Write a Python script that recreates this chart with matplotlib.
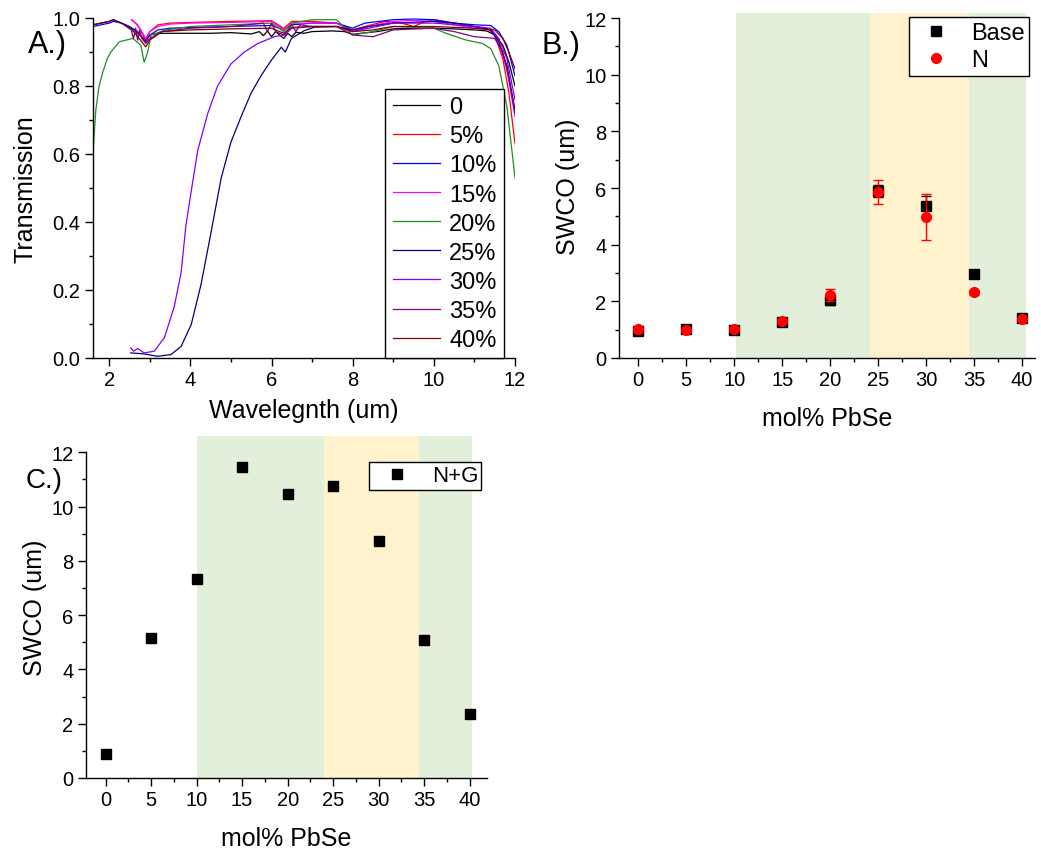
import matplotlib
matplotlib.use('Agg')
import matplotlib.pyplot as plt
from matplotlib.ticker import MultipleLocator
from matplotlib.lines import Line2D

plt.rcParams['font.family'] = ['Liberation Sans', 'DejaVu Sans']

# ---------------- Panel A data: transmission spectra ----------------
labels_a = ['0', '5%', '10%', '15%', '20%', '25%', '30%', '35%', '40%']
colors_a = ['#000000', '#ff0000', '#0000ff', '#ff00ff', '#1f8f1f',
            '#000080', '#8000ff', '#800080', '#800000']

wl_0 = [1.6, 1.8, 2.0, 2.1, 2.2, 2.4, 2.6, 2.7, 2.8, 2.9, 3.0, 3.2, 3.5, 4.0, 4.5, 5.0, 5.5,
        5.7, 5.8, 5.9, 6.0, 6.1, 6.2, 6.3, 6.4, 6.5, 6.6, 6.8, 7.0, 7.5, 7.8, 8.0, 8.2, 8.6,
        9.0, 9.5, 10.0, 10.5, 11.0, 11.3, 11.5, 11.7, 11.85, 12.0]
tr_0 = [0.98, 0.985, 0.99, 0.995, 0.99, 0.98, 0.965, 0.955, 0.945, 0.935, 0.95, 0.955, 0.955,
        0.955, 0.955, 0.957, 0.953, 0.96, 0.948, 0.962, 0.945, 0.96, 0.95, 0.94, 0.955, 0.945,
        0.958, 0.955, 0.96, 0.962, 0.96, 0.952, 0.955, 0.96, 0.968, 0.97, 0.97, 0.968, 0.965,
        0.962, 0.95, 0.92, 0.87, 0.80]

wl_5 = [2.55, 2.65, 2.75, 2.85, 2.9, 3.0, 3.2, 3.5, 4.0, 5.0, 6.0, 6.3, 6.5, 7.0, 7.6, 8.0,
        8.3, 8.8, 9.2, 9.5, 9.8, 10.0, 10.5, 11.0, 11.3, 11.5, 11.7, 11.85, 12.0]
tr_5 = [0.995, 0.985, 0.97, 0.945, 0.935, 0.96, 0.98, 0.985, 0.987, 0.99, 0.992, 0.97, 0.99,
        0.99, 0.985, 0.965, 0.975, 0.99, 0.985, 0.975, 0.99, 0.995, 0.985, 0.975, 0.97, 0.95,
        0.88, 0.78, 0.63]

wl_10 = [1.6, 1.8, 2.0, 2.1, 2.3, 2.5, 2.7, 2.85, 2.9, 3.0, 3.2, 3.5, 4.0, 5.0, 6.0, 6.3, 6.5,
         7.0, 7.6, 8.0, 8.3, 9.0, 9.5, 10.0, 10.5, 11.0, 11.4, 11.6, 11.8, 12.0]
tr_10 = [0.975, 0.98, 0.985, 0.99, 0.985, 0.975, 0.96, 0.935, 0.93, 0.95, 0.965, 0.97, 0.972,
         0.975, 0.978, 0.965, 0.98, 0.985, 0.985, 0.97, 0.985, 0.995, 0.997, 0.995, 0.985,
         0.98, 0.978, 0.96, 0.92, 0.83]

wl_15 = [2.55, 2.7, 2.85, 2.9, 3.0, 3.2, 3.5, 4.0, 5.0, 6.0, 6.3, 6.5, 7.0, 7.6, 8.0, 8.4,
         9.0, 9.5, 10.0, 10.5, 11.0, 11.4, 11.6, 11.8, 12.0]
tr_15 = [0.995, 0.98, 0.95, 0.94, 0.96, 0.975, 0.982, 0.985, 0.987, 0.99, 0.965, 0.985, 0.985,
         0.985, 0.96, 0.975, 0.99, 0.993, 0.99, 0.98, 0.97, 0.965, 0.93, 0.85, 0.71]

wl_20 = [1.6, 1.67, 1.75, 1.84, 1.95, 2.04, 2.25, 2.58, 2.78, 2.86, 2.95, 3.03, 3.4, 4.0, 5.0,
         6.0, 6.3, 6.5, 7.0, 7.6, 8.0, 8.5, 9.0, 10.0, 10.3, 10.8, 11.2, 11.4, 11.6, 11.8, 12.0]
tr_20 = [0.605, 0.73, 0.80, 0.84, 0.88, 0.90, 0.93, 0.94, 0.92, 0.87, 0.90, 0.95, 0.965, 0.975,
         0.98, 0.985, 0.96, 0.985, 0.995, 0.995, 0.95, 0.96, 0.975, 0.97, 0.955, 0.935, 0.925,
         0.91, 0.86, 0.74, 0.53]

wl_25 = [2.53, 2.86, 3.19, 3.52, 3.77, 4.02, 4.26, 4.51, 4.76, 5.0, 5.25, 5.5, 5.74, 5.99,
         6.24, 6.34, 6.49, 6.81, 7.06, 7.6, 8.0, 8.4, 9.0, 10.0, 10.5, 11.0, 11.4, 11.6, 11.8,
         12.0]
tr_25 = [0.015, 0.012, 0.005, 0.01, 0.034, 0.098, 0.215, 0.37, 0.53, 0.635, 0.71, 0.78, 0.83,
         0.875, 0.914, 0.90, 0.94, 0.963, 0.973, 0.975, 0.965, 0.975, 0.985, 0.99, 0.985,
         0.975, 0.965, 0.93, 0.86, 0.73]

wl_30 = [2.53, 2.6, 2.7, 2.86, 3.11, 3.36, 3.6, 3.77, 3.89, 4.02, 4.18, 4.43, 4.67, 5.0, 5.33,
         5.66, 6.07, 6.32, 6.5, 7.0, 7.6, 8.0, 8.4, 9.0, 10.0, 10.5, 11.0, 11.4, 11.6, 11.8,
         12.0]
tr_30 = [0.03, 0.02, 0.028, 0.015, 0.02, 0.06, 0.15, 0.25, 0.39, 0.49, 0.61, 0.72, 0.80, 0.865,
         0.90, 0.925, 0.945, 0.95, 0.97, 0.975, 0.975, 0.96, 0.97, 0.985, 0.985, 0.98, 0.975,
         0.97, 0.94, 0.88, 0.76]

wl_35 = [2.55, 2.6, 2.65, 2.7, 2.75, 2.8, 2.9, 3.0, 3.3, 4.0, 5.0, 5.8, 5.9, 6.0, 6.1, 6.3,
         6.5, 6.6, 6.7, 7.0, 7.6, 8.0, 8.5, 9.0, 10.0, 10.5, 11.0, 11.5, 11.7, 11.85, 12.0]
tr_35 = [0.96, 0.94, 0.97, 0.935, 0.965, 0.94, 0.925, 0.94, 0.96, 0.97, 0.975, 0.985, 0.96,
         0.985, 0.96, 0.95, 0.98, 0.96, 0.98, 0.975, 0.975, 0.95, 0.945, 0.965, 0.97, 0.96,
         0.945, 0.94, 0.90, 0.82, 0.72]

wl_40 = [1.6, 1.8, 2.0, 2.1, 2.3, 2.6, 2.8, 2.9, 3.0, 3.3, 4.0, 5.0, 6.0, 6.3, 6.5, 7.0, 7.6,
         8.0, 8.5, 9.0, 10.0, 11.0, 11.5, 11.7, 11.85, 12.0]
tr_40 = [0.98, 0.985, 0.99, 0.995, 0.985, 0.96, 0.93, 0.915, 0.935, 0.96, 0.965, 0.968, 0.97,
         0.955, 0.972, 0.975, 0.975, 0.96, 0.965, 0.975, 0.975, 0.97, 0.965, 0.94, 0.90, 0.85]

wl_all = [wl_0, wl_5, wl_10, wl_15, wl_20, wl_25, wl_30, wl_35, wl_40]
tr_all = [tr_0, tr_5, tr_10, tr_15, tr_20, tr_25, tr_30, tr_35, tr_40]

# ---------------- Panel B / C data ----------------
mol_pct = [0, 5, 10, 15, 20, 25, 30, 35, 40]
base_swco = [0.95, 1.03, 0.98, 1.28, 2.05, 5.9, 5.38, 2.95, 1.42]
base_err = [0.08, 0.05, 0.05, 0.06, 0.18, 0.2, 0.35, 0.05, 0.06]
n_swco = [1.02, 0.99, 1.02, 1.30, 2.22, 5.85, 4.97, 2.32, 1.37]
n_err = [0.12, 0.05, 0.06, 0.07, 0.2, 0.42, 0.82, 0.08, 0.05]
ng_swco = [0.9, 5.15, 7.35, 11.45, 10.45, 10.75, 8.72, 5.1, 2.37]

green_regions = [(10.2, 24.2), (34.5, 40.4)]
yellow_regions = [(24.2, 34.5)]
green_regions_c = [(10.0, 24.0), (34.4, 40.2)]
yellow_regions_c = [(24.0, 34.4)]

GREEN_FILL = '#e2efda'
YELLOW_FILL = '#fff2cc'
TICK_FS = 14.5
LABEL_FS = 18

W, H = 1041, 853
fig = plt.figure(figsize=(W / 100, H / 100), dpi=100)


def ax_px(l, t, r, b):
    return fig.add_axes([l / W, 1 - b / H, (r - l) / W, (b - t) / H])


def style(ax):
    for s in ['top', 'right']:
        ax.spines[s].set_visible(False)
    for s in ['left', 'bottom']:
        ax.spines[s].set_linewidth(1.0)
    ax.tick_params(which='both', direction='out', labelsize=TICK_FS, width=1.0)
    ax.tick_params(which='major', length=6, pad=3)
    ax.tick_params(which='minor', length=3)


# ---------------- Panel A ----------------
axA = ax_px(93, 19, 515, 359)
for wl, tr, c, lab in zip(wl_all, tr_all, colors_a, labels_a):
    axA.plot(wl, tr, color=c, lw=0.9, label=lab)
axA.set_xlim(1.6, 12)
axA.set_ylim(0, 1.0)
axA.xaxis.set_major_locator(MultipleLocator(2))
axA.xaxis.set_minor_locator(MultipleLocator(1))
axA.yaxis.set_major_locator(MultipleLocator(0.2))
axA.yaxis.set_minor_locator(MultipleLocator(0.1))
axA.yaxis.set_major_formatter(plt.FuncFormatter(lambda v, p: f'{v:.1f}'))
style(axA)
axA.set_xlabel('Wavelegnth (um)', fontsize=LABEL_FS, labelpad=6)
axA.set_ylabel('Transmission', fontsize=LABEL_FS, labelpad=11)
legA = axA.legend(loc='lower left', bbox_to_anchor=(0.693, 0.0), fontsize=17,
                  frameon=True, fancybox=False, edgecolor='black', framealpha=1,
                  handlelength=2.0, labelspacing=0.3, handletextpad=0.4,
                  borderpad=0.3, borderaxespad=0)
legA.get_frame().set_linewidth(1.0)

# ---------------- Panel B ----------------
axB = ax_px(619, 14, 1035, 359)
for a, b in green_regions:
    axB.axvspan(a, b, color=GREEN_FILL, lw=0, zorder=0)
for a, b in yellow_regions:
    axB.axvspan(a, b, color=YELLOW_FILL, lw=0, zorder=0)
axB.errorbar(mol_pct, base_swco, yerr=base_err, fmt='s', color='black', ms=6.5,
             capsize=3.5, elinewidth=1, capthick=1, zorder=3)
axB.errorbar(mol_pct, n_swco, yerr=n_err, fmt='o', color='#ff0000', ms=7,
             capsize=3.5, elinewidth=1, capthick=1, zorder=4)
axB.set_xlim(-2, 41.35)
axB.set_ylim(0, 12.18)
axB.spines['left'].set_bounds(0, 12)
axB.xaxis.set_major_locator(MultipleLocator(5))
axB.xaxis.set_minor_locator(MultipleLocator(2.5))
axB.set_yticks([0, 2, 4, 6, 8, 10, 12])
axB.yaxis.set_minor_locator(MultipleLocator(1))
style(axB)
axB.set_xlabel('mol% PbSe', fontsize=LABEL_FS, labelpad=12)
axB.set_ylabel('SWCO (um)', fontsize=LABEL_FS, labelpad=3)
hB = [Line2D([], [], ls='none', marker='s', color='black', ms=6.5),
      Line2D([], [], ls='none', marker='o', color='#ff0000', ms=7)]
legB = axB.legend(hB, ['Base', 'N'], loc='upper right', bbox_to_anchor=(0.986, 0.988),
                  fontsize=17, frameon=True, fancybox=False, edgecolor='black',
                  framealpha=1, handlelength=1.86, handletextpad=0.55, labelspacing=0.22,
                  borderpad=0.2, borderaxespad=0)
legB.get_frame().set_linewidth(1.0)

# ---------------- Panel C ----------------
axC = ax_px(86, 437, 487, 779)
for a, b in green_regions_c:
    axC.axvspan(a, b, color=GREEN_FILL, lw=0, zorder=0)
for a, b in yellow_regions_c:
    axC.axvspan(a, b, color=YELLOW_FILL, lw=0, zorder=0)
axC.plot(mol_pct, ng_swco, ls='none', marker='s', color='black', ms=6.5, zorder=3)
axC.set_xlim(-2.15, 41.9)
axC.set_ylim(0, 12.6)
axC.spines['left'].set_bounds(0, 12)
axC.xaxis.set_major_locator(MultipleLocator(5))
axC.xaxis.set_minor_locator(MultipleLocator(2.5))
axC.set_yticks([0, 2, 4, 6, 8, 10, 12])
axC.yaxis.set_minor_locator(MultipleLocator(1))
style(axC)
axC.set_xlabel('mol% PbSe', fontsize=LABEL_FS, labelpad=12)
axC.set_ylabel('SWCO (um)', fontsize=LABEL_FS, labelpad=3)
hC = [Line2D([], [], ls='none', marker='s', color='black', ms=6.5)]
legC = axC.legend(hC, ['N+G'], loc='upper right', bbox_to_anchor=(0.986, 0.924),
                  fontsize=16, frameon=True, fancybox=False, edgecolor='black',
                  framealpha=1, handlelength=2.2, handletextpad=0.45,
                  borderpad=0.15, borderaxespad=0)
legC.get_frame().set_linewidth(1.0)

# ---------------- Panel letters ----------------
fig.text(28 / W, 1 - 45 / H, 'A.)', fontsize=22, va='center', ha='left')
fig.text(541 / W, 1 - 46 / H, 'B.)', fontsize=22, va='center', ha='left')
fig.text(26 / W, 1 - 481 / H, 'C.)', fontsize=20, va='center', ha='left')

fig.savefig('out.png', dpi=100)
